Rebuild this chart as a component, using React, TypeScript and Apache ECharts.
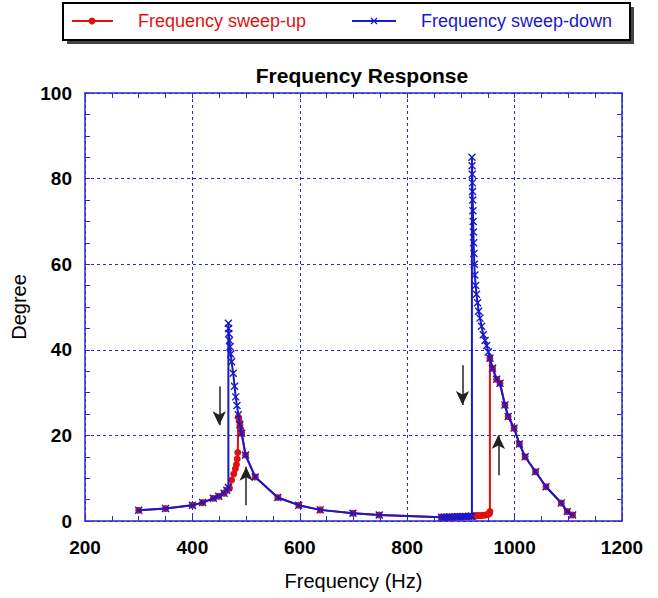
import React, { useEffect, useRef } from "react";
import * as echarts from "echarts";

// ---- data (frequency Hz, degree) ----
const sweepUp: [number, number][] = [
  [300, 2.5], [350, 2.9], [400, 3.7], [419, 4.3], [439, 5.3], [449, 5.8], [459, 6.5], [464, 7.2],
  [469, 7.7], [473, 9.6], [477, 11], [480, 12.2], [482, 13.2], [483.5, 14.5], [484.5, 16],
  [485.5, 24.3], [487, 23.4], [488.5, 22.4], [490, 21.3], [491.8, 20.5], [499, 15.4], [517, 10.3],
  [559, 5.5], [598, 3.7], [638, 2.6], [699, 1.8], [748, 1.4],
  [864, 0.9], [869, 0.9], [874, 0.9], [879, 0.95], [884, 0.95], [889, 1.0], [894, 1.0], [899, 1.0],
  [904, 1.05], [909, 1.05], [914, 1.1], [919, 1.1], [922, 1.2], [926, 1.2], [930, 1.25], [934, 1.3],
  [938, 1.3], [942, 1.35], [946, 1.4], [950, 1.5], [953, 1.7], [954, 2.2], [954, 38],
  [959, 35.7], [966.6, 33.1], [972.8, 32.2], [982, 27.1], [988, 24.4], [999, 21.7], [1009, 18],
  [1019.6, 15], [1039, 11.5], [1058.5, 8], [1087, 4.2], [1098, 2.2], [1108, 1.4],
];

const sweepDown: [number, number][] = [
  [300, 2.5], [350, 2.9], [400, 3.7], [419, 4.3], [439, 5.3], [449, 5.8], [459, 6.5], [464, 7.2],
  [467, 7.8], [467, 46.2], [467.4, 45], [467.8, 43.8], [469, 42.2], [470, 40.7], [471.5, 39],
  [473, 37.2], [476, 34.5], [478.5, 31.5], [480.6, 29], [483, 27], [485.5, 24.8], [488.5, 22.5],
  [491.8, 20.5], [499, 15.4], [517, 10.3], [559, 5.5], [598, 3.7], [638, 2.6], [699, 1.8], [748, 1.4],
  [864, 0.9], [869, 0.9], [874, 0.9], [879, 0.95], [884, 0.95], [889, 1.0], [894, 1.0], [899, 1.0],
  [904, 1.05], [909, 1.05], [914, 1.1], [919, 1.1], [920.5, 1.1], [920.5, 85], [920.8, 83],
  [921.1, 81], [921.4, 79], [921.7, 77], [922, 75], [922.4, 72.5], [922.8, 70], [923.2, 67.5],
  [923.7, 65], [924.3, 62.5], [925, 60], [926, 57.5], [927.4, 55], [929, 53], [931, 51], [933, 49],
  [935.5, 47.4], [938.5, 45.5], [941.7, 43.5], [945, 42.2], [948, 41], [951, 39.5], [954, 38],
  [959, 35.7], [966.6, 33.1], [972.8, 32.2], [982, 27.1], [988, 24.4], [999, 21.7], [1009, 18],
  [1019.6, 15], [1039, 11.5], [1058.5, 8], [1087, 4.2], [1098, 2.2], [1108, 1.4],
];

// jump arrows: [freq, fromDeg, toDeg]
const jumpArrows: [number, number, number][] = [
  [450, 31.4, 22.4],
  [500, 3.7, 12.7],
  [903, 36.4, 27.1],
  [969.7, 10.7, 20.1],
];

const xTicks = { min: 200, max: 1200, interval: 200 };
const yTicks = { min: 0, max: 100, interval: 20 };

const RED = "#e01010";
const BLUE = "#1818cc";
const AXIS = "#2a2ad0";
const FONT = "Liberation Sans, Arial, sans-serif";

const X_PATH = "path://M0,0L10,10M10,0L0,10";

export default function App() {
  const ref = useRef<HTMLDivElement>(null);
  useEffect(() => {
    if (!ref.current) return;
    const chart = echarts.init(ref.current, null, { renderer: "svg" });

    const axisCommon = {
      axisLine: { show: true, onZero: false, lineStyle: { color: AXIS, width: 1.5 } },
      axisTick: { show: true, inside: true, length: 5, lineStyle: { color: AXIS, width: 1 } },
      minorTick: { show: true, length: 5, lineStyle: { color: AXIS, width: 1 } },
    };
    const labelStyle = {
      color: "#000", fontFamily: FONT, fontSize: 19, fontWeight: "bold",
      formatter: (v: number) => String(v),
    };

    const option: any = {
      animation: false,
      backgroundColor: "#fff",
      title: {
        text: "Frequency Response",
        left: 357,
        textAlign: "center",
        top: 60,
        textStyle: { fontFamily: FONT, fontSize: 21, fontWeight: "bold", color: "#000" },
      },
      grid: { left: 85, right: 36, top: 93, bottom: 77, containLabel: false },
      xAxis: [
        {
          type: "value",
          position: "bottom",
          ...xTicks,
          ...axisCommon,
          minorTick: { ...axisCommon.minorTick, splitNumber: 4 },
          splitLine: { show: true, lineStyle: { color: AXIS, type: [3, 3], width: 1 } },
          axisLabel: { ...labelStyle, margin: 17 },
          name: "Frequency (Hz)",
          nameLocation: "middle",
          nameGap: 50,
          nameTextStyle: { color: "#000", fontFamily: FONT, fontSize: 20 },
        },
        {
          type: "value",
          position: "top",
          ...xTicks,
          ...axisCommon,
          minorTick: { ...axisCommon.minorTick, splitNumber: 4 },
          splitLine: { show: false },
          axisLabel: { show: false },
        },
      ],
      yAxis: [
        {
          type: "value",
          position: "left",
          ...yTicks,
          ...axisCommon,
          minorTick: { ...axisCommon.minorTick, splitNumber: 4 },
          splitLine: { show: true, lineStyle: { color: AXIS, type: [3, 3], width: 1 } },
          axisLabel: { ...labelStyle, margin: 13 },
          name: "Degree",
          nameLocation: "middle",
          nameGap: 54,
          nameRotate: 90,
          nameTextStyle: { color: "#000", fontFamily: FONT, fontSize: 20 },
        },
        {
          type: "value",
          position: "right",
          ...yTicks,
          ...axisCommon,
          minorTick: { ...axisCommon.minorTick, splitNumber: 4 },
          splitLine: { show: false },
          axisLabel: { show: false },
        },
      ],
      series: [
        {
          name: "Frequency sweep-up",
          type: "line",
          data: sweepUp,
          symbol: "circle",
          symbolSize: 7,
          showAllSymbol: true,
          lineStyle: { color: RED, width: 2 },
          itemStyle: { color: RED },
          z: 2,
        },
        {
          name: "Frequency sweep-down",
          type: "line",
          data: sweepDown,
          symbol: X_PATH,
          symbolSize: 7,
          showAllSymbol: true,
          lineStyle: { color: BLUE, width: 2 },
          itemStyle: { color: "rgba(0,0,0,0)", borderColor: BLUE, borderWidth: 1.4 },
          z: 3,
        },
        {
          name: "arrows",
          type: "line",
          data: [],
          silent: true,
          markLine: {
            silent: true,
            symbol: ["none", "arrow"],
            symbolSize: [10, 14],
            label: { show: false },
            lineStyle: { color: "#222", width: 1.5, type: "solid" },
            data: jumpArrows.map(([f, a, b]) => [{ coord: [f, a] }, { coord: [f, b] }]),
          },
          z: 4,
        },
      ],
      graphic: [
        { type: "rect", shape: { x: 67, y: 7, width: 567, height: 37 }, style: { fill: "#444" }, silent: true },
        { type: "rect", shape: { x: 63, y: 3, width: 567, height: 37 }, style: { fill: "#fff", stroke: "#000", lineWidth: 2 }, silent: true },
        { type: "line", shape: { x1: 72, y1: 21, x2: 113, y2: 21 }, style: { stroke: RED, lineWidth: 2 } },
        { type: "circle", shape: { cx: 92, cy: 21, r: 3.5 }, style: { fill: RED } },
        {
          type: "text", x: 138, y: 21,
          style: { text: "Frequency sweep-up", fill: RED, fontFamily: FONT, fontSize: 18, verticalAlign: "middle", align: "left" },
        },
        { type: "line", shape: { x1: 352, y1: 21, x2: 396, y2: 21 }, style: { stroke: BLUE, lineWidth: 2 } },
        { type: "line", shape: { x1: 371, y1: 18, x2: 377, y2: 24 }, style: { stroke: BLUE, lineWidth: 1.3 } },
        { type: "line", shape: { x1: 377, y1: 18, x2: 371, y2: 24 }, style: { stroke: BLUE, lineWidth: 1.3 } },
        {
          type: "text", x: 421, y: 21,
          style: { text: "Frequency sweep-down", fill: BLUE, fontFamily: FONT, fontSize: 18, verticalAlign: "middle", align: "left" },
        },
      ],
    };
    chart.setOption(option);
    return () => chart.dispose();
  }, []);
  return <div ref={ref} style={{ width: 658, height: 598, position: "absolute", left: 0, top: 0 }} />;
}
